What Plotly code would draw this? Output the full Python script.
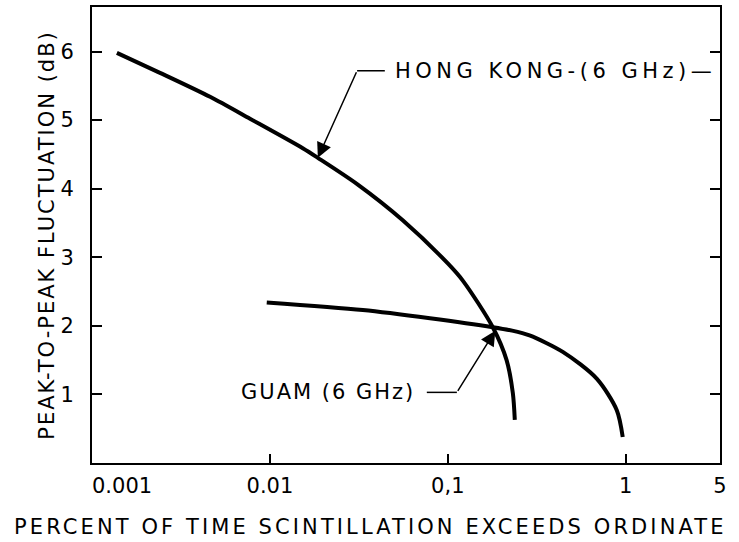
import numpy as np
import plotly.graph_objects as go

# Data (x = percent of time, y = peak-to-peak fluctuation dB)
hk_x = [0.00138, 0.00241, 0.00461, 0.00773, 0.0153, 0.0186, 0.0312, 0.0558, 0.1, 0.1214, 0.179, 0.214, 0.232, 0.238]
hk_y = [5.98, 5.69, 5.34, 5.02, 4.59, 4.45, 4.06, 3.54, 2.91, 2.66, 1.98, 1.50, 1.02, 0.63]

guam_x = [0.0096, 0.0333, 0.0794, 0.179, 0.230, 0.288, 0.443, 0.687, 0.891, 0.962]
guam_y = [2.34, 2.23, 2.11, 1.98, 1.93, 1.86, 1.62, 1.23, 0.77, 0.38]

x_tickvals = [0.001, 0.01, 0.1, 1, 3.39]
x_ticktext = ["\u00a0" * 9 + "0.001", "0.01", "0,1", "1", "5"]
y_tickvals = [1, 2, 3, 4, 5, 6]

X_TITLE = "PERCENT OF TIME SCINTILLATION EXCEEDS ORDINATE"
Y_TITLE = "PEAK-TO-PEAK FLUCTUATION (dB)"

FONT = "'DejaVu Sans', sans-serif"


def spaced(s, px):
    return f'<span style="letter-spacing:{px}px">{s}</span>'


fig = go.Figure()
fig.add_trace(go.Scatter(x=hk_x, y=hk_y, mode="lines", line=dict(color="black", width=4, shape="spline", smoothing=0.8),
                         name="HONG KONG (6 GHz)", showlegend=False))
fig.add_trace(go.Scatter(x=guam_x, y=guam_y, mode="lines", line=dict(color="black", width=4, shape="spline", smoothing=0.8),
                         name="GUAM (6 GHz)", showlegend=False))

# leader lines (horizontal parts)
fig.add_trace(go.Scatter(x=[10**-1.51, 10**-1.354], y=[5.72, 5.72], mode="lines",
                         line=dict(color="black", width=1.5), showlegend=False, hoverinfo="skip"))
fig.add_trace(go.Scatter(x=[10**-1.118, 10**-0.949], y=[1.03, 1.03], mode="lines",
                         line=dict(color="black", width=1.5), showlegend=False, hoverinfo="skip"))

fig.add_annotation(x=np.log10(0.0186), y=4.45, ax=-1.51, ay=5.72, axref="x", ayref="y", xref="x", yref="y",
                   text="", showarrow=True, arrowhead=2, arrowsize=2, arrowwidth=1.5, arrowcolor="black")
fig.add_annotation(x=np.log10(0.185), y=1.93, ax=-0.949, ay=1.03, axref="x", ayref="y", xref="x", yref="y",
                   text="", showarrow=True, arrowhead=2, arrowsize=2, arrowwidth=1.5, arrowcolor="black")

fig.add_annotation(x=-1.31, y=5.72, xref="x", yref="y", text=spaced("HONG KONG-(6 GHz)—", 4.5), showarrow=False,
                   xanchor="left", yanchor="middle", font=dict(family=FONT, size=21, color="black"))
fig.add_annotation(x=-1.174, y=1.03, xref="x", yref="y", text=spaced("GUAM (6 GHz)", 2), showarrow=False,
                   xanchor="right", yanchor="middle", font=dict(family=FONT, size=21, color="black"))

# x-axis title (placed as annotation so it can be centred like the reference)
fig.add_annotation(x=0.443, y=0, xref="paper", yref="paper", yshift=-64, text=spaced(X_TITLE, 3.1),
                   showarrow=False, xanchor="center", yanchor="middle", font=dict(family=FONT, size=21, color="black"))

fig.update_layout(
    width=739, height=542,
    margin=dict(l=92, r=19, t=5, b=79),
    plot_bgcolor="white", paper_bgcolor="white",
    font=dict(family=FONT, size=21, color="black"),
    showlegend=False,
)
fig.update_xaxes(type="log", range=[-3, 0.53], tickvals=x_tickvals, ticktext=x_ticktext,
                 ticks="inside", ticklen=9, tickwidth=1.5, tickcolor="black",
                 showline=True, linecolor="black", linewidth=2, mirror=True, showgrid=False, zeroline=False,
                 ticklabelstandoff=3)
fig.update_yaxes(range=[0, 6.65], tickvals=y_tickvals,
                 ticks="inside", ticklen=10, tickwidth=1.5, tickcolor="black",
                 showline=True, linecolor="black", linewidth=2, mirror="ticks", showgrid=False, zeroline=False,
                 ticklabelstandoff=12,
                 title=dict(text=spaced(Y_TITLE, 2), standoff=0,
                            font=dict(family=FONT, size=21)))

fig.write_html("out.html", config={"displayModeBar": False}, post_script="document.body.style.margin='0';")
